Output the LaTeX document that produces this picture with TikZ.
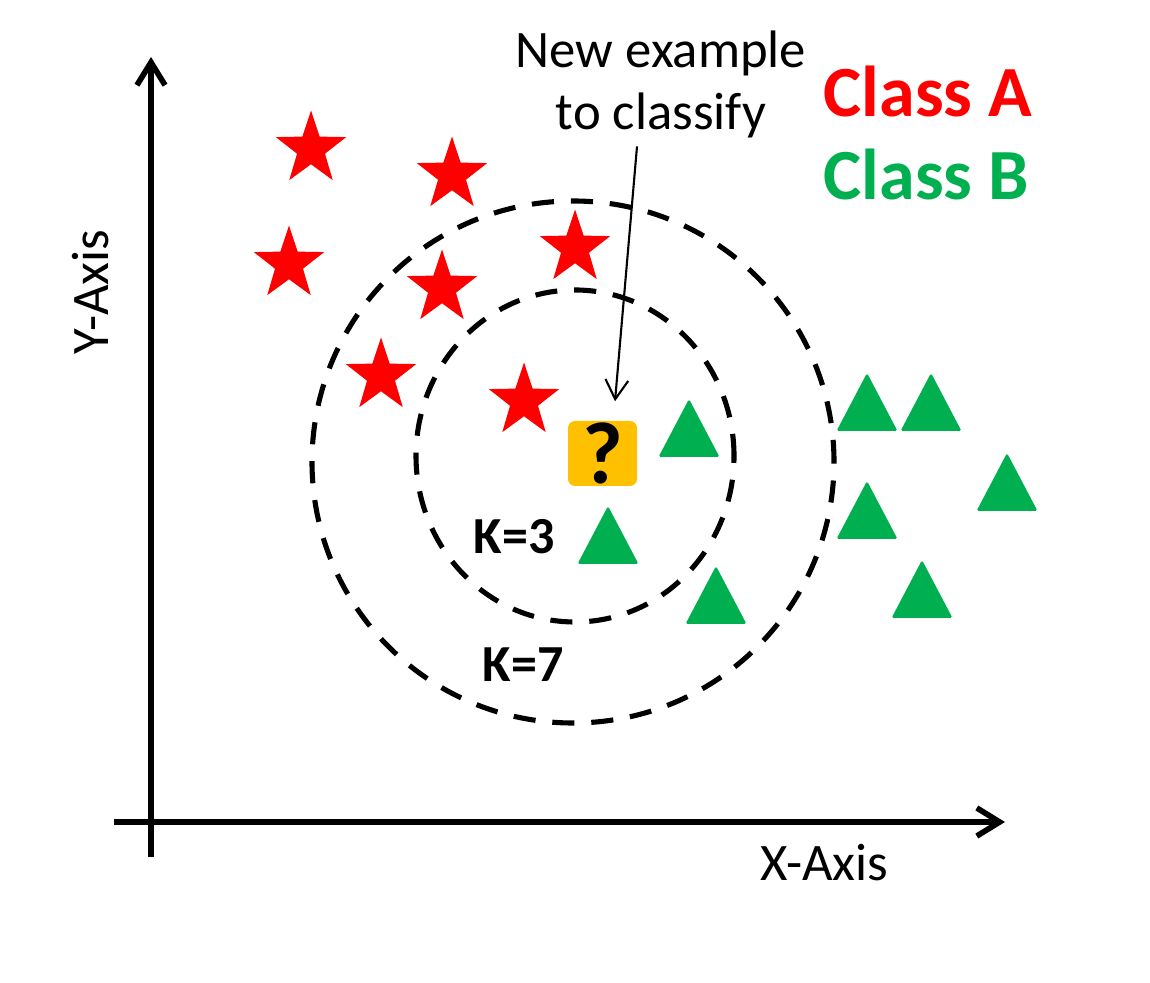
\documentclass[tikz,border=0pt]{standalone}
\usepackage{fontspec}
\setmainfont{Carlito}
\usetikzlibrary{arrows.meta}
\definecolor{classA}{HTML}{FF0000}
\definecolor{classB}{HTML}{00B050}
\definecolor{query}{HTML}{FFC000}

\begin{document}
\begin{tikzpicture}[axis/.style={line width=1.6pt,-{Straight Barb[length=6.5pt,width=8pt]}},
  ring/.style={line width=1.45pt,dash pattern=on 6.3pt off 4.8pt},
  lbl/.style={inner sep=0pt,font=\fontsize{15}{17.6}\selectfont},
  klbl/.style={inner sep=0pt,anchor=base west,font=\fontsize{14.8}{17.6}\selectfont\bfseries},
  big/.style={inner sep=0pt,anchor=base west,font=\fontsize{20.5}{24}\selectfont\bfseries}]
\useasboundingbox (-1.51,-1.60) rectangle (9.99,8.22);
\draw[axis] (0,-0.35) -- (0,7.65);
\draw[axis] (-0.37,0) -- (8.54,0);
\node[lbl,anchor=base west] (xlab) at (6.09,-0.58) {X-Axis};
\node[lbl,rotate=90,anchor=base] (ylab) at (-0.43,5.30) {Y-Axis};
\draw[ring] (4.22,3.60) circle (2.61);
\draw[ring] (4.24,3.66) ellipse (1.59 and 1.66);
\foreach \x/\y in {1.60/6.73,3.01/6.47,1.38/5.58,4.24/5.74,2.91/5.34,2.30/4.46,3.73/4.21}
  \fill[classA] (\x,\y) +(90:0.37 and 0.385) \foreach \a in {0,...,4}{-- +(90+72*\a:0.37 and 0.385) -- +(126+72*\a:0.147 and 0.153)} -- cycle;
\foreach \x/\y in {5.38/3.65,7.16/3.91,7.80/3.91,8.56/3.11,7.16/2.83,5.65/1.98,7.71/2.04,4.57/2.58}
  \fill[classB,rounded corners=0.5pt] (\x-0.305,\y) -- (\x+0.305,\y) -- (\x,\y+0.58) -- cycle;
\node[fill=query,rounded corners=2pt,minimum width=0.69cm,minimum height=0.65cm,inner sep=0pt,
  font=\fontsize{25}{30}\selectfont\bfseries] (q) at (4.515,3.685) {?};
\node[klbl] (k3) at (3.22,2.68) {K=3};
\node[klbl] (k7) at (3.31,1.41) {K=7};
\node[lbl,align=center,anchor=north] (newex) at (5.10,7.92) {New example\\to classify};
\node[big,text=classA] (clsa) at (6.72,7.05) {Class A};
\node[big,text=classB] (clsb) at (6.72,6.22) {Class B};
\draw[line width=0.6pt,-{Straight Barb[length=5.5pt,width=6.5pt]}] ([xshift=-0.24cm,yshift=-0.08cm]newex.south) -- ([xshift=0.125cm,yshift=0.19cm]q.north);
\end{tikzpicture}
\end{document}
